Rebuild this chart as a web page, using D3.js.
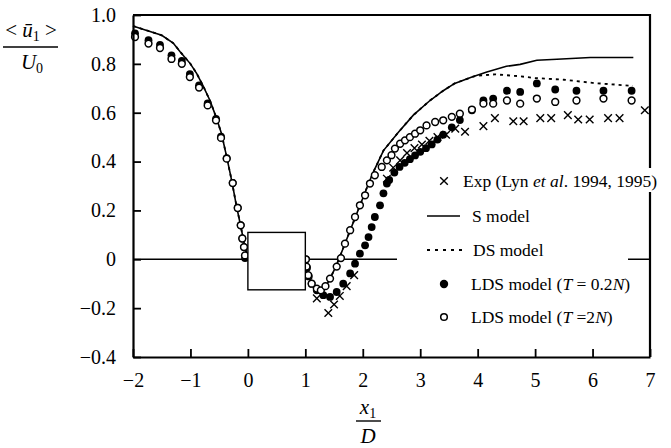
<!DOCTYPE html>
<html><head><meta charset="utf-8">
<script src="https://cdn.jsdelivr.net/npm/d3@7"></script>
<style>
html,body{margin:0;padding:0;background:#fff;}
svg{display:block;}
svg text{font-family:'Liberation Serif','Times New Roman',Times,'Nimbus Roman','DejaVu Serif',serif;}
</style></head>
<body>
<svg id="chart" width="671" height="448"></svg>
<script>
// ---------- data ----------
const xTicks = [-2,-1,0,1,2,3,4,5,6,7];
const xTickLabels = ["\u22122","\u22121","0","1","2","3","4","5","6","7"];
const yTicks = [-0.4,-0.2,0,0.2,0.4,0.6,0.8,1.0];
const yTickLabels = ["\u22120.4","\u22120.2","0","0.2","0.4","0.6","0.8","1.0"];

// S model (solid line)
const sModelX = [-2,-1.8,-1.5,-1.3,-1.18,-1.0,-0.89,-0.78,-0.66,-0.55,-0.46,-0.37,-0.28,-0.2,-0.12,-0.06,0,
  1.0,1.04,1.1,1.18,1.27,1.36,1.45,1.53,1.6,1.7,1.8,1.9,2.0,2.1,2.2,2.36,2.62,2.88,3.17,3.4,3.6,3.9,4.16,4.5,4.74,5.03,5.38,5.96,6.71];
const sModelY = [0.955,0.94,0.917,0.885,0.85,0.80,0.76,0.71,0.65,0.58,0.515,0.42,0.32,0.22,0.13,0.06,0,
  0,-0.06,-0.1,-0.125,-0.132,-0.11,-0.07,-0.03,0.01,0.07,0.13,0.19,0.25,0.31,0.365,0.445,0.52,0.59,0.65,0.69,0.72,0.746,0.767,0.79,0.798,0.815,0.819,0.826,0.826];

// DS model (dashed line)
const dsModelX = [-2,-1.8,-1.5,-1.3,-1.18,-1.0,-0.89,-0.78,-0.66,-0.55,-0.46,-0.37,-0.28,-0.2,-0.12,-0.06,0,
  1.0,1.04,1.1,1.18,1.27,1.36,1.45,1.53,1.6,1.7,1.8,1.9,2.0,2.1,2.2,2.36,2.62,2.88,3.17,3.4,3.6,3.9,4.0,4.3,4.7,5.0,5.5,6.0,6.7];
const dsModelY = [0.955,0.94,0.917,0.885,0.85,0.80,0.76,0.71,0.65,0.58,0.515,0.42,0.32,0.22,0.13,0.06,0,
  0,-0.06,-0.1,-0.125,-0.132,-0.11,-0.07,-0.03,0.01,0.07,0.13,0.19,0.25,0.31,0.365,0.445,0.52,0.59,0.65,0.69,0.72,0.746,0.752,0.757,0.75,0.742,0.735,0.722,0.71];

// LDS model (T = 0.2N) filled circles
const ldsFilledX = [-1.965,-1.73,-1.53,-1.33,-1.15,-1.01,-0.85,-0.70,-0.555,-0.468,-0.369,-0.264,-0.177,-0.125,-0.097,-0.068,-0.05,
  1.01,1.03,1.06,1.11,1.2,1.313,1.43,1.546,1.66,1.78,1.865,1.95,2.04,2.10,2.155,2.21,2.3,2.36,2.42,2.46,2.55,2.64,2.73,2.82,2.91,3.0,3.1,3.2,3.3,3.4,3.55,3.69,3.90,4.10,4.27,4.51,4.74,5.03,5.35,5.72,6.19,6.68];
const ldsFilledY = [0.925,0.897,0.878,0.835,0.812,0.758,0.712,0.638,0.575,0.502,0.414,0.313,0.211,0.14,0.085,0.05,0.005,
  0,-0.035,-0.07,-0.1,-0.127,-0.147,-0.154,-0.134,-0.10,-0.058,-0.018,0.023,0.057,0.091,0.132,0.173,0.221,0.27,0.31,0.325,0.355,0.378,0.395,0.41,0.425,0.44,0.455,0.47,0.49,0.51,0.54,0.57,0.61,0.65,0.658,0.69,0.685,0.72,0.695,0.69,0.69,0.69];

// LDS model (T = 2N) open circles
const ldsOpenX = [-1.965,-1.73,-1.53,-1.33,-1.15,-1.01,-0.85,-0.70,-0.555,-0.468,-0.369,-0.264,-0.177,-0.125,-0.097,-0.068,-0.05,
  1.01,1.02,1.05,1.11,1.2,1.27,1.35,1.43,1.546,1.62,1.69,1.78,1.865,1.95,2.04,2.125,2.21,2.33,2.42,2.50,2.56,2.65,2.735,2.82,2.91,3.0,3.11,3.26,3.40,3.55,3.69,3.90,4.10,4.27,4.51,4.74,5.03,5.35,5.72,6.19,6.68];
const ldsOpenY = [0.91,0.883,0.865,0.82,0.80,0.746,0.703,0.63,0.569,0.497,0.412,0.312,0.21,0.139,0.085,0.05,0.016,
  0,-0.03,-0.065,-0.10,-0.12,-0.127,-0.11,-0.079,-0.03,0.005,0.064,0.119,0.173,0.221,0.262,0.31,0.344,0.378,0.405,0.426,0.453,0.473,0.487,0.50,0.514,0.528,0.548,0.562,0.569,0.583,0.596,0.613,0.637,0.637,0.65,0.637,0.658,0.644,0.65,0.658,0.65];

// Experiment (Lyn et al.) crosses
const expX = [1.2,1.4,1.5,1.6,1.72,1.85,2.42,2.53,2.65,2.77,2.9,3.03,3.16,3.3,3.45,3.61,3.78,4.1,4.3,4.62,4.8,5.09,5.28,5.57,5.75,5.95,6.27,6.47,6.91];
const expY = [-0.16,-0.22,-0.185,-0.15,-0.11,-0.065,0.33,0.375,0.405,0.435,0.455,0.47,0.485,0.5,0.51,0.535,0.522,0.545,0.578,0.565,0.565,0.578,0.578,0.59,0.572,0.572,0.578,0.578,0.61];

// square cylinder extent
const boxX = [0, 1];
const boxY = [-0.125, 0.11];

// ---------- drawing ----------
const FONT = "'Liberation Serif','Times New Roman',Times,'Nimbus Roman','DejaVu Serif',serif";
const svg = d3.select("#chart");
const x = d3.scaleLinear().domain([-2, 7]).range([133, 650]);
const y = d3.scaleLinear().domain([-0.4, 1.0]).range([357, 15]);
const zip = (a, b) => a.map((v, i) => [v, b[i]]);

// zero line
svg.append("line").attr("x1", x(-2)).attr("x2", x(7)).attr("y1", y(0)).attr("y2", y(0))
  .attr("stroke", "#000").attr("stroke-width", 1.4);

const line = d3.line().x(d => x(d[0])).y(d => y(d[1]));
svg.append("path").datum(zip(sModelX, sModelY)).attr("d", line)
  .attr("fill", "none").attr("stroke", "#000").attr("stroke-width", 1.6);
svg.append("path").datum(zip(dsModelX, dsModelY)).attr("d", line)
  .attr("fill", "none").attr("stroke", "#000").attr("stroke-width", 1.8).attr("stroke-dasharray", "3,4");

const crossPath = s => `M${-s},${-s}L${s},${s}M${-s},${s}L${s},${-s}`;
svg.append("g").selectAll("path").data(zip(expX, expY)).join("path")
  .attr("transform", d => `translate(${x(d[0])},${y(d[1])})`)
  .attr("d", crossPath(3.8)).attr("stroke", "#000").attr("stroke-width", 1.4).attr("fill", "none");

svg.append("g").selectAll("circle").data(zip(ldsFilledX, ldsFilledY)).join("circle")
  .attr("cx", d => x(d[0])).attr("cy", d => y(d[1])).attr("r", 3.9).attr("fill", "#000");

svg.append("g").selectAll("circle").data(zip(ldsOpenX, ldsOpenY)).join("circle")
  .attr("cx", d => x(d[0])).attr("cy", d => y(d[1])).attr("r", 3.4)
  .attr("fill", "#fff").attr("stroke", "#000").attr("stroke-width", 1.5);

// cylinder
svg.append("rect").attr("x", x(boxX[0])).attr("y", y(boxY[1]))
  .attr("width", x(boxX[1]) - x(boxX[0])).attr("height", y(boxY[0]) - y(boxY[1]))
  .attr("fill", "#fff").attr("stroke", "#000").attr("stroke-width", 1.4);

// frame (top, right)
svg.append("path").attr("d", `M${x(-2)},${y(1)}H${x(7)}V${y(-0.4)}`)
  .attr("fill", "none").attr("stroke", "#000").attr("stroke-width", 2.2);

// axes
const xAxis = d3.axisBottom(x).tickValues(xTicks).tickSize(-8).tickSizeOuter(0).tickPadding(16)
  .tickFormat((d, i) => xTickLabels[i]);
const gx = svg.append("g").attr("transform", `translate(0,${y(-0.4)})`).call(xAxis);
const yAxis = d3.axisLeft(y).tickValues(yTicks).tickSize(-8).tickSizeOuter(0).tickPadding(17)
  .tickFormat((d, i) => yTickLabels[i]);
const gy = svg.append("g").attr("transform", `translate(${x(-2)},0)`).call(yAxis);
[gx, gy].forEach(g => {
  g.attr("font-family", FONT).attr("font-size", 20);
  g.select(".domain").attr("stroke-width", 2.2);
  g.selectAll(".tick line").attr("stroke-width", 1.8);
  g.selectAll("text").attr("fill", "#000");
});

// legend
const leg = svg.append("g").attr("font-family", FONT).attr("font-size", 17.5).attr("fill", "#000");
leg.append("rect").attr("x", 397).attr("y", 196).attr("width", 231).attr("height", 140).attr("fill", "#fff");
leg.append("rect").attr("x", 460).attr("y", 168).attr("width", 205).attr("height", 24).attr("fill", "#fff");
const rows = [181, 216, 250, 284, 317];
const mx = 444;
leg.append("path").attr("transform", `translate(${mx},${rows[0]})`).attr("d", crossPath(3.8))
  .attr("stroke", "#000").attr("stroke-width", 1.4);
leg.append("line").attr("x1", 427).attr("x2", 460).attr("y1", rows[1]).attr("y2", rows[1])
  .attr("stroke", "#000").attr("stroke-width", 1.6);
leg.append("line").attr("x1", 427).attr("x2", 462).attr("y1", rows[2]).attr("y2", rows[2])
  .attr("stroke", "#000").attr("stroke-width", 1.8).attr("stroke-dasharray", "3,5");
leg.append("circle").attr("cx", mx).attr("cy", rows[3]).attr("r", 4.2).attr("fill", "#000");
leg.append("circle").attr("cx", mx).attr("cy", rows[4]).attr("r", 3.3).attr("fill", "#fff")
  .attr("stroke", "#000").attr("stroke-width", 1.5);

function richText(g, tx, ty, parts) {
  const t = g.append("text").attr("x", tx).attr("y", ty);
  parts.forEach(p => {
    const s = t.append("tspan").text(p[0]);
    if (p[1]) s.attr("font-style", "italic");
  });
  return t;
}
const bl = 6;
richText(leg, 463, rows[0] + bl, [["Exp (Lyn "], ["et al", true], [". 1994, 1995)"]]);
richText(leg, 472, rows[1] + bl, [["S model"]]);
richText(leg, 473, rows[2] + bl, [["DS model"]]);
richText(leg, 471, rows[3] + bl, [["LDS model ("], ["T", true], [" = 0.2"], ["N", true], [")"]]);
richText(leg, 471, rows[4] + bl, [["LDS model ("], ["T", true], [" =2"], ["N", true], [")"]]);

// axis titles
const yt = svg.append("g").attr("font-family", FONT).attr("font-size", 21).attr("fill", "#000");
const yNum = yt.append("text").attr("x", 31).attr("y", 37).attr("text-anchor", "middle");
yNum.append("tspan").text("< ");
yNum.append("tspan").attr("font-style", "italic").text("\u016B");
yNum.append("tspan").attr("font-size", 14).attr("dy", 4).text("1");
yNum.append("tspan").attr("dy", -4).text(" >");
yt.append("line").attr("x1", 3).attr("x2", 58).attr("y1", 47).attr("y2", 47).attr("stroke", "#000").attr("stroke-width", 1.4);
const yDen = yt.append("text").attr("x", 32).attr("y", 69).attr("text-anchor", "middle");
yDen.append("tspan").attr("font-style", "italic").text("U");
yDen.append("tspan").attr("font-size", 14).attr("dy", 4).text("0");

const xt = svg.append("g").attr("font-family", FONT).attr("font-size", 21).attr("fill", "#000");
const xNum = xt.append("text").attr("x", 368).attr("y", 414).attr("text-anchor", "middle");
xNum.append("tspan").attr("font-style", "italic").text("x");
xNum.append("tspan").attr("font-size", 14).attr("dy", 4).text("1");
xt.append("line").attr("x1", 356).attr("x2", 381).attr("y1", 421).attr("y2", 421).attr("stroke", "#000").attr("stroke-width", 1.4);
xt.append("text").attr("x", 368).attr("y", 443).attr("text-anchor", "middle").attr("font-style", "italic").text("D");
</script>
</body></html>
